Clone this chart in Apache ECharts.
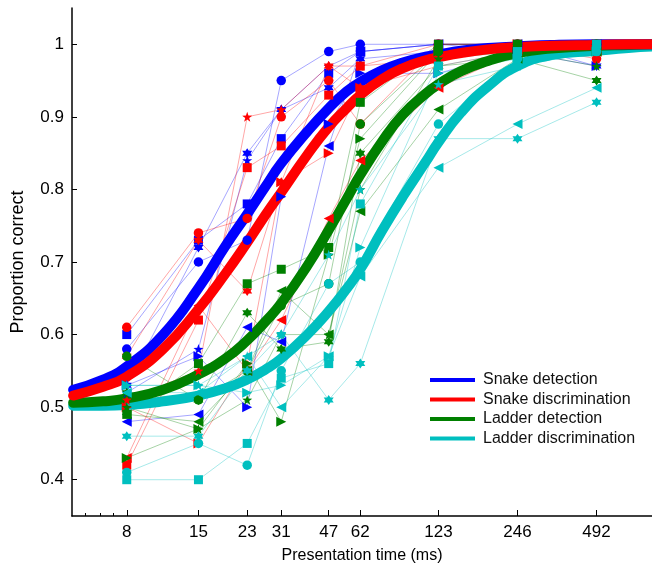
<!DOCTYPE html>
<html><head><meta charset="utf-8">
<script src="https://cdn.jsdelivr.net/npm/echarts@6/dist/echarts.min.js"></script>
<style>html,body{margin:0;padding:0;background:#fff}#c{width:652px;height:570px}</style>
</head><body><div id="c"></div>
<script>
// ---- data ----
const times = [8, 15, 23, 31, 47, 62, 123, 246, 492];
const xTickLabels = [8, 15, 23, 31, 47, 62, 123, 246, 492];
const xMinorTicks = [5.55, 6.33, 7.11];
const yTicks = [0.4, 0.5, 0.6, 0.7, 0.8, 0.9, 1.0];
const conditions = ['Snake detection', 'Snake discrimination', 'Ladder detection', 'Ladder discrimination'];

// Snake detection (individual subjects)
const sdCircle    = [0.58, 0.70, 0.73, 0.95, 0.99, 1.00, 1.00, 1.00, 1.00];
const sdSquare    = [0.60, 0.73, 0.78, 0.87, 0.96, 0.99, 1.00, 1.00, 0.99];
const sdHexagram  = [0.53, 0.72, 0.85, 0.91, 0.94, 0.98, 0.99, 1.00, 0.97];
const sdPentagram = [0.52, 0.58, 0.84, 0.91, 0.97, 0.99, 1.00, 0.99, 1.00];
const sdLeftTri   = [0.48, 0.49, 0.61, 0.59, 0.86, 0.99, 1.00, 1.00, 1.00];
const sdRightTri  = [0.53, 0.57, 0.50, 0.79, 0.89, 0.96, 0.96, 0.99, 0.97];
// Snake discrimination
const sdiCircle    = [0.61, 0.74, 0.76, 0.90, 0.95, 0.89, 1.00, 1.00, 0.98];
const sdiSquare    = [0.42, 0.62, 0.83, 0.86, 0.93, 0.97, 1.00, 1.00, 1.00];
const sdiHexagram  = [0.57, 0.73, 0.66, 0.81, 0.97, 0.94, 0.97, 0.99, 1.00];
const sdiPentagram = [0.51, 0.55, 0.90, 0.91, 0.97, 0.97, 0.98, 1.00, 1.00];
const sdiLeftTri   = [0.43, 0.64, 0.55, 0.62, 0.76, 0.84, 0.94, 0.99, 0.99];
const sdiRightTri  = [0.50, 0.45, 0.56, 0.81, 0.85, 0.94, 0.99, 1.00, 1.00];
// Ladder detection
const ldCircle    = [0.57, 0.51, 0.55, 0.64, 0.67, 0.89, 0.99, 1.00, 1.00];
const ldSquare    = [0.49, 0.56, 0.67, 0.69, 0.72, 0.92, 1.00, 1.00, 1.00];
const ldHexagram  = [0.52, 0.51, 0.63, 0.58, 0.59, 0.85, 0.97, 0.98, 0.95];
const ldPentagram = [0.50, 0.47, 0.51, 0.60, 0.60, 0.80, 0.98, 0.99, 0.97];
const ldLeftTri   = [0.49, 0.48, 0.55, 0.66, 0.60, 0.77, 0.91, 0.98, 0.99];
const ldRightTri  = [0.43, 0.47, 0.56, 0.48, 0.71, 0.87, 0.99, 0.99, 0.99];
// Ladder discrimination
const ldiCircle    = [0.41, 0.45, 0.42, 0.55, 0.67, 0.70, 0.89, 0.98, 0.99];
const ldiSquare    = [0.40, 0.40, 0.45, 0.54, 0.56, 0.78, 0.97, 0.99, 1.00];
const ldiHexagram  = [0.46, 0.46, 0.55, 0.60, 0.51, 0.56, 0.87, 0.87, 0.92];
const ldiPentagram = [0.53, 0.53, 0.57, 0.60, 0.71, 0.80, 0.945, 0.97, 0.99];
const ldiLeftTri   = [0.52, 0.52, 0.57, 0.50, 0.57, 0.68, 0.83, 0.89, 0.94];
const ldiRightTri  = [0.53, 0.53, 0.52, 0.53, 0.57, 0.72, 0.96, 0.98, 0.99];

// fitted curves
const fitTimes      = [5, 6.5, 8, 11, 15, 19, 23, 27, 31, 39, 47, 55, 62, 75, 90, 110, 123, 150, 190, 246, 330, 492, 650, 800];
const fitSnakeDet   = [0.524,0.538,0.556,0.600,0.664,0.722,0.766,0.804,0.836,0.880,0.912,0.935,0.948,0.964,0.975,0.983,0.986,0.991,0.995,0.997,0.999,1.000,1.000,1.000];
const fitSnakeDisc  = [0.516,0.528,0.542,0.580,0.635,0.684,0.727,0.765,0.796,0.848,0.886,0.912,0.930,0.952,0.967,0.978,0.982,0.988,0.993,0.996,0.998,0.999,1.000,1.000];
const fitLadderDet  = [0.506,0.508,0.512,0.524,0.545,0.567,0.592,0.618,0.643,0.695,0.744,0.787,0.820,0.866,0.903,0.932,0.945,0.963,0.977,0.988,0.994,0.998,0.999,1.000];
const fitLadderDisc = [0.502,0.502,0.503,0.508,0.516,0.526,0.538,0.552,0.567,0.600,0.632,0.663,0.690,0.743,0.790,0.838,0.865,0.906,0.942,0.970,0.985,0.991,0.995,0.997];

// ---- styling ----
const colors = ['#0000ff', '#ff0000', '#008000', '#00bfbf'];
const symbols = {
  circle: 'circle',
  square: 'rect',
  hexagram: 'path://M0,-10L2.887,-5L8.66,-5L5.774,0L8.66,5L2.887,5L0,10L-2.887,5L-8.66,5L-5.774,0L-8.66,-5L-2.887,-5Z',
  pentagram: 'path://M0,-10L2.35,-3.24L9.51,-3.09L3.8,1.24L5.88,8.09L0,4L-5.88,8.09L-3.8,1.24L-9.51,-3.09L-2.35,-3.24Z',
  leftTri: 'path://M0,5L9,0L9,10Z',
  rightTri: 'path://M9,5L0,0L0,10Z'
};
const symSize = {circle: 9.5, square: 9, hexagram: 10, pentagram: 10, leftTri: 10, rightTri: 10};
const subjects = [
  [['circle', sdCircle], ['square', sdSquare], ['hexagram', sdHexagram], ['pentagram', sdPentagram], ['leftTri', sdLeftTri], ['rightTri', sdRightTri]],
  [['circle', sdiCircle], ['square', sdiSquare], ['hexagram', sdiHexagram], ['pentagram', sdiPentagram], ['leftTri', sdiLeftTri], ['rightTri', sdiRightTri]],
  [['circle', ldCircle], ['square', ldSquare], ['hexagram', ldHexagram], ['pentagram', ldPentagram], ['leftTri', ldLeftTri], ['rightTri', ldRightTri]],
  [['circle', ldiCircle], ['square', ldiSquare], ['hexagram', ldiHexagram], ['pentagram', ldiPentagram], ['leftTri', ldiLeftTri], ['rightTri', ldiRightTri]]
];
const fits = [fitSnakeDet, fitSnakeDisc, fitLadderDet, fitLadderDisc];

const lg = v => Math.log10(v);
const series = [];
subjects.forEach((subs, ci) => {
  subs.forEach(([m, vals]) => {
    const data = times.map((t, i) => [lg(t), vals[i]]);
    series.push({type: 'line', data, symbol: 'none', silent: true, z: 1,
      lineStyle: {width: 1, color: colors[ci], opacity: 0.35}});
    series.push({type: 'scatter', data, symbol: symbols[m], symbolSize: symSize[m], silent: true, z: 4,
      itemStyle: {color: colors[ci], opacity: 1}});
  });
});
// fitted curves: cyan, green, blue, red (red on top)
[3, 2, 0, 1].forEach((ci, k) => {
  series.push({type: 'line', name: conditions[ci], data: fitTimes.map((t, i) => [lg(t), fits[ci][i]]),
    smooth: true, symbol: 'none', z: 2 + k * 0.1, silent: true,
    itemStyle: {color: colors[ci]}, lineStyle: {width: 10, color: colors[ci], cap: 'round'}});
});

const font = 'Liberation Sans, Arial, sans-serif';
const xMin = lg(4.95), xMax = lg(800);
const chart = echarts.init(document.getElementById('c'), null, {renderer: 'canvas'});
chart.setOption({
  animation: false,
  backgroundColor: '#fff',
  grid: {left: 72, right: 0, top: 8, bottom: 54, containLabel: false},
  legend: {
    data: conditions, orient: 'vertical', left: 425, top: 367, icon: 'rect',
    itemWidth: 45, itemHeight: 4, itemGap: 3.5,
    textStyle: {fontFamily: font, fontSize: 16, color: '#111', padding: [0, 0, 0, 3]}
  },
  xAxis: [{
    type: 'value', min: xMin, max: xMax,
    axisLine: {show: true, onZero: false, lineStyle: {color: '#000', width: 1.5}},
    axisTick: {show: true, inside: true, length: 6, customValues: xTickLabels.map(lg), lineStyle: {color: '#000'}},
    axisLabel: {customValues: xTickLabels.map(lg), formatter: v => String(Math.round(Math.pow(10, v))),
      fontFamily: font, fontSize: 17, color: '#000', margin: 8},
    splitLine: {show: false},
    name: 'Presentation time (ms)', nameLocation: 'middle', nameGap: 32,
    nameTextStyle: {fontFamily: font, fontSize: 16, color: '#000'}
  }, {
    type: 'value', min: xMin, max: xMax, position: 'bottom',
    axisLine: {show: false},
    axisTick: {show: true, inside: true, length: 3, customValues: xMinorTicks.map(lg), lineStyle: {color: '#000'}},
    axisLabel: {show: false}, splitLine: {show: false}
  }],
  yAxis: {
    type: 'value', min: 0.35, max: 1.05,
    axisLine: {show: true, onZero: false, lineStyle: {color: '#000', width: 1.5}},
    axisTick: {show: true, inside: true, length: 5, customValues: yTicks, lineStyle: {color: '#000'}},
    axisLabel: {customValues: yTicks, formatter: v => (Math.abs(v - 1) < 1e-9 ? '1' : v.toFixed(1)),
      fontFamily: font, fontSize: 17, color: '#000', margin: 8},
    splitLine: {show: false},
    name: 'Proportion correct', nameLocation: 'middle', nameGap: 45,
    nameTextStyle: {fontFamily: font, fontSize: 18, color: '#000'}
  },
  series
});
</script></body></html>
